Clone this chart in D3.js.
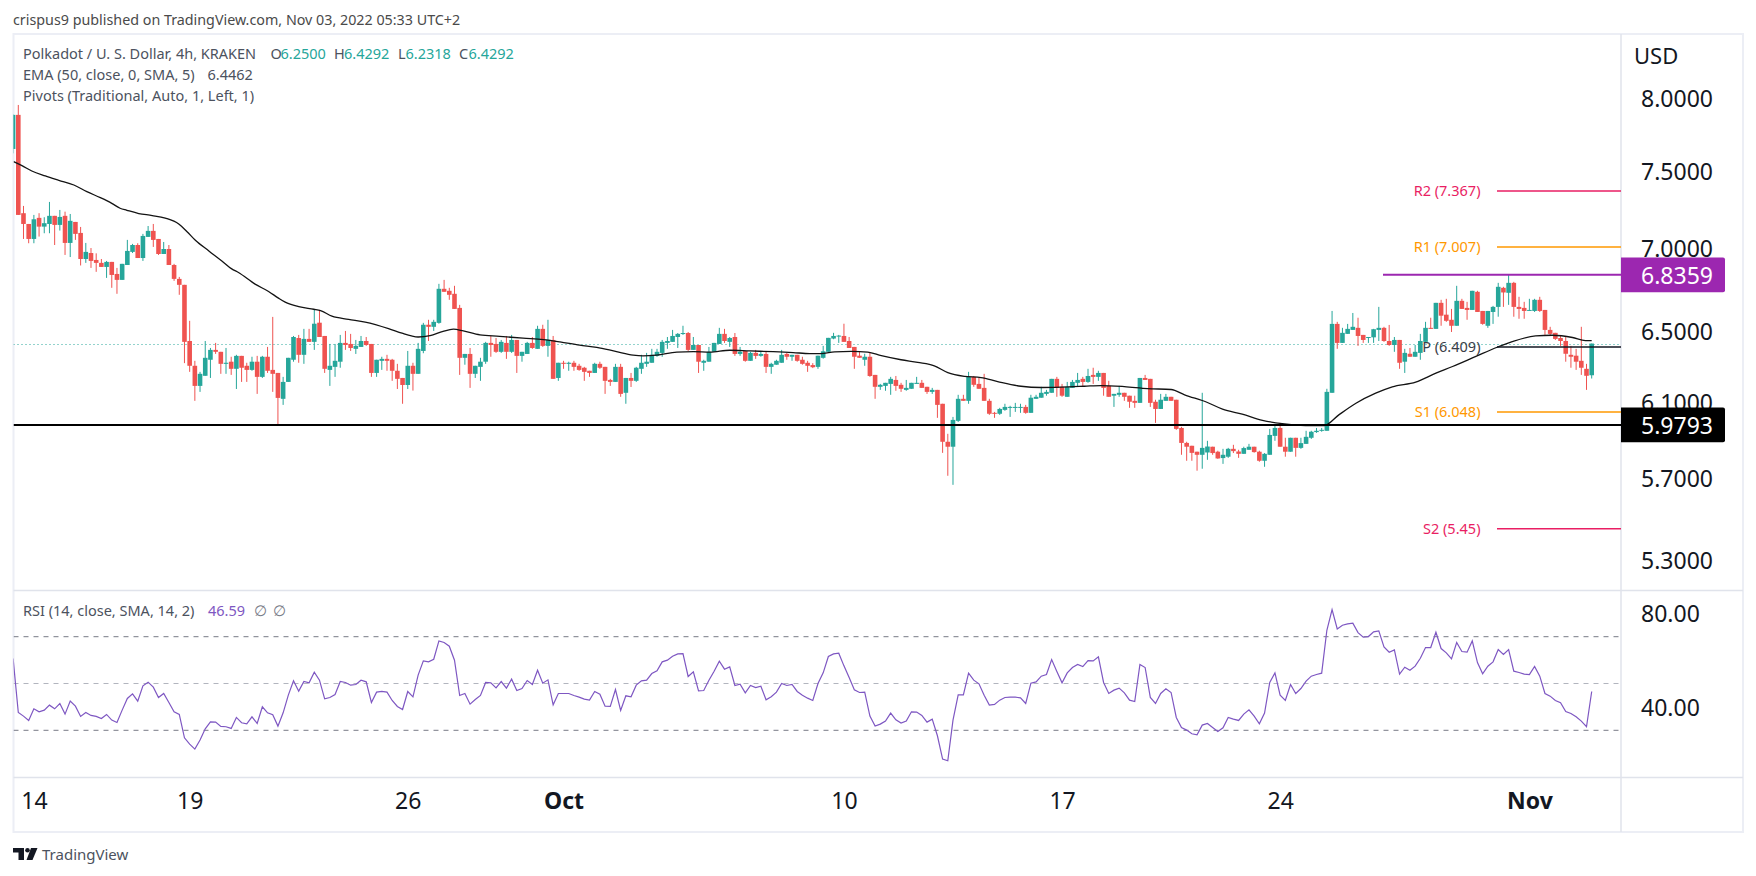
<!DOCTYPE html>
<html>
<head>
<meta charset="utf-8">
<script src="https://cdn.jsdelivr.net/npm/d3@7"></script>
<style>
  html, body { margin: 0; padding: 0; background: #fff; }
  svg { display: block; }
  text { font-family: "Noto Sans", sans-serif; }
</style>
</head>
<body>
<svg id="chart" width="1756" height="876"></svg>
<script>
// Candles, one row per 10 bars (4h bars, KRAKEN DOT/USD)
const opens = [
  7.648,7.884,7.222,7.153,7.058,7.192,7.136,7.153,7.205,7.147,
  7.205,7.033,7.166,7.096,6.933,6.970,6.927,6.909,6.884,6.915,
  6.841,6.805,6.896,6.977,7.020,6.939,7.071,7.109,7.058,6.964,
  6.995,6.896,6.811,6.775,6.444,6.303,6.191,6.247,6.337,6.393,
  6.382,6.314,6.326,6.286,6.359,6.303,6.280,6.326,6.241,6.354,
  6.280,6.263,6.120,6.213,6.337,6.461,6.365,6.456,6.439,6.550,
  6.473,6.280,6.297,6.326,6.433,6.427,6.399,6.410,6.444,6.427,
  6.263,6.331,6.342,6.337,6.275,6.235,6.196,6.303,6.258,6.387,
  6.538,6.526,6.549,6.751,6.739,6.721,6.637,6.348,6.370,6.258,
  6.297,6.326,6.433,6.427,6.382,6.433,6.382,6.450,6.359,6.370,
  6.433,6.399,6.514,6.416,6.450,6.235,6.320,6.314,6.320,6.303,
  6.292,6.275,6.263,6.314,6.297,6.224,6.213,6.297,6.153,6.235,
  6.219,6.286,6.314,6.320,6.359,6.376,6.433,6.439,6.467,6.485,
  6.490,6.393,6.421,6.320,6.326,6.382,6.427,6.485,6.439,6.467,
  6.370,6.387,6.331,6.376,6.359,6.370,6.297,6.309,6.320,6.370,
  6.354,6.365,6.337,6.320,6.307,6.297,6.348,6.382,6.458,6.471,
  6.473,6.444,6.410,6.360,6.337,6.354,6.252,6.186,6.191,6.202,
  6.224,6.197,6.169,6.175,6.202,6.208,6.186,6.158,6.169,6.093,
  5.890,5.864,6.001,6.120,6.109,6.241,6.202,6.180,6.109,6.044,
  6.039,6.060,6.071,6.073,6.073,6.076,6.044,6.120,6.126,6.147,
  6.153,6.230,6.186,6.131,6.180,6.208,6.230,6.213,6.252,6.241,
  6.263,6.191,6.137,6.142,6.153,6.137,6.109,6.098,6.235,6.230,
  6.104,6.065,6.109,6.131,6.115,5.963,5.884,5.869,5.838,5.822,
  5.834,5.864,5.838,5.805,5.812,5.853,5.839,5.827,5.848,5.864,
  5.838,5.791,5.822,5.921,5.963,5.864,5.838,5.911,5.858,5.879,
  5.911,5.941,5.948,5.948,6.153,6.543,6.433,6.485,6.508,6.520,
  6.479,6.464,6.465,6.508,6.520,6.444,6.421,6.450,6.326,6.371,
  6.354,6.376,6.439,6.520,6.514,6.667,6.597,6.567,6.532,6.679,
  6.637,6.625,6.733,6.619,6.532,6.613,6.643,6.757,6.727,6.787,
  6.643,6.637,6.621,6.619,6.685,6.625,6.508,6.491,6.461,6.444,
  6.365,6.360,6.331,6.286,6.25
];
const highs = [
  7.888,7.954,7.269,7.153,7.211,7.222,7.196,7.295,7.205,7.243,
  7.232,7.217,7.166,7.134,7.033,7.001,6.968,6.933,6.921,6.915,
  6.878,6.903,7.052,7.027,7.031,7.090,7.140,7.153,7.058,7.039,
  7.020,6.903,6.823,6.775,6.561,6.331,6.269,6.444,6.404,6.433,
  6.382,6.404,6.354,6.365,6.359,6.320,6.354,6.359,6.359,6.410,
  6.584,6.263,6.241,6.348,6.473,6.479,6.514,6.514,6.625,6.625,
  6.473,6.427,6.427,6.479,6.502,6.485,6.450,6.473,6.467,6.427,
  6.337,6.354,6.365,6.342,6.314,6.235,6.387,6.320,6.433,6.549,
  6.567,6.567,6.781,6.805,6.757,6.769,6.655,6.370,6.404,6.303,
  6.348,6.439,6.473,6.461,6.450,6.473,6.479,6.450,6.382,6.439,
  6.467,6.532,6.538,6.567,6.473,6.320,6.331,6.326,6.331,6.314,
  6.297,6.275,6.320,6.326,6.297,6.230,6.314,6.314,6.235,6.263,
  6.297,6.365,6.376,6.399,6.399,6.450,6.467,6.508,6.490,6.532,
  6.496,6.467,6.421,6.337,6.410,6.433,6.520,6.514,6.467,6.490,
  6.410,6.387,6.382,6.393,6.387,6.387,6.320,6.337,6.393,6.376,
  6.365,6.365,6.354,6.331,6.318,6.360,6.416,6.462,6.491,6.479,
  6.544,6.467,6.410,6.382,6.371,6.376,6.252,6.202,6.208,6.241,
  6.246,6.208,6.224,6.208,6.241,6.224,6.186,6.180,6.169,6.093,
  5.932,6.022,6.142,6.142,6.269,6.246,6.235,6.258,6.120,6.049,
  6.071,6.093,6.082,6.098,6.093,6.087,6.142,6.142,6.186,6.169,
  6.230,6.241,6.202,6.213,6.224,6.263,6.241,6.286,6.292,6.275,
  6.263,6.219,6.147,6.191,6.153,6.137,6.137,6.235,6.252,6.230,
  6.115,6.147,6.147,6.131,6.115,5.969,5.890,5.869,5.838,6.153,
  5.895,5.864,5.843,5.853,5.858,5.874,5.848,5.864,5.879,5.864,
  5.843,5.831,5.958,5.974,5.990,5.911,5.911,5.911,5.911,5.948,
  5.948,5.963,5.963,6.175,6.619,6.555,6.520,6.543,6.607,6.579,
  6.479,6.467,6.514,6.643,6.526,6.537,6.467,6.450,6.399,6.404,
  6.421,6.485,6.555,6.579,6.667,6.685,6.691,6.631,6.769,6.691,
  6.673,6.739,6.739,6.619,6.619,6.649,6.787,6.763,6.835,6.793,
  6.703,6.673,6.691,6.691,6.703,6.625,6.526,6.491,6.473,6.473,
  6.416,6.399,6.526,6.314,6.4292
];
const lows = [
  7.618,7.211,7.058,7.031,7.031,7.073,7.094,7.094,7.020,7.111,
  6.958,6.945,7.052,6.893,6.909,6.878,6.854,6.884,6.817,6.757,
  6.721,6.805,6.896,6.970,6.939,6.921,7.071,7.008,6.958,6.964,
  6.896,6.799,6.715,6.318,6.269,6.109,6.158,6.247,6.235,6.370,
  6.258,6.258,6.252,6.174,6.213,6.213,6.275,6.147,6.235,6.263,
  6.158,5.979,6.087,6.213,6.326,6.320,6.314,6.439,6.393,6.467,
  6.263,6.191,6.241,6.292,6.393,6.387,6.370,6.410,6.416,6.241,
  6.241,6.280,6.275,6.219,6.174,6.093,6.174,6.165,6.258,6.374,
  6.444,6.502,6.544,6.733,6.685,6.631,6.252,6.309,6.180,6.235,
  6.219,6.314,6.354,6.376,6.376,6.342,6.376,6.263,6.326,6.370,
  6.399,6.399,6.410,6.354,6.230,6.219,6.286,6.275,6.275,6.275,
  6.219,6.241,6.263,6.286,6.147,6.191,6.213,6.131,6.093,6.185,
  6.213,6.258,6.297,6.320,6.354,6.354,6.399,6.439,6.404,6.479,
  6.387,6.393,6.263,6.275,6.326,6.382,6.427,6.433,6.410,6.359,
  6.359,6.326,6.331,6.342,6.354,6.263,6.258,6.309,6.320,6.337,
  6.331,6.326,6.309,6.269,6.290,6.286,6.343,6.382,6.454,6.433,
  6.439,6.404,6.286,6.348,6.303,6.241,6.120,6.169,6.164,6.142,
  6.164,6.158,6.164,6.175,6.202,6.180,6.147,6.147,6.017,5.832,
  5.714,5.668,5.995,6.109,6.093,6.186,6.175,6.109,6.033,6.017,
  6.033,6.055,6.022,6.049,6.044,6.039,6.044,6.120,6.126,6.137,
  6.153,6.131,6.131,6.131,6.180,6.186,6.186,6.208,6.202,6.219,
  6.137,6.131,6.076,6.131,6.109,6.071,6.071,6.098,6.224,6.076,
  5.990,6.065,6.109,6.109,5.953,5.822,5.791,5.791,5.740,5.750,
  5.796,5.822,5.801,5.775,5.806,5.831,5.806,5.827,5.848,5.833,
  5.786,5.760,5.822,5.895,5.864,5.812,5.838,5.812,5.853,5.879,
  5.905,5.937,5.943,5.948,6.153,6.399,6.433,6.485,6.508,6.416,
  6.433,6.433,6.433,6.444,6.439,6.416,6.382,6.286,6.263,6.354,
  6.354,6.337,6.439,6.514,6.514,6.532,6.555,6.496,6.532,6.631,
  6.567,6.625,6.613,6.538,6.520,6.543,6.585,6.643,6.655,6.585,
  6.573,6.573,6.619,6.613,6.613,6.479,6.473,6.450,6.416,6.326,
  6.292,6.280,6.252,6.169,6.2318
];
const closes = [
  7.884,7.211,7.153,7.058,7.183,7.136,7.158,7.205,7.147,7.198,
  7.033,7.173,7.090,6.933,6.977,6.921,6.909,6.884,6.915,6.835,
  6.805,6.903,6.983,7.020,6.939,7.077,7.109,7.052,6.964,6.995,
  6.896,6.811,6.775,6.439,6.303,6.191,6.258,6.348,6.393,6.382,
  6.314,6.320,6.286,6.359,6.292,6.280,6.326,6.241,6.354,6.275,
  6.258,6.125,6.213,6.348,6.467,6.365,6.456,6.439,6.544,6.467,
  6.286,6.303,6.331,6.433,6.421,6.404,6.416,6.444,6.421,6.263,
  6.337,6.342,6.331,6.275,6.230,6.196,6.303,6.258,6.399,6.538,
  6.526,6.555,6.751,6.733,6.715,6.631,6.348,6.370,6.258,6.303,
  6.326,6.433,6.421,6.382,6.439,6.382,6.450,6.359,6.382,6.433,
  6.404,6.514,6.416,6.450,6.230,6.320,6.314,6.320,6.297,6.280,
  6.269,6.263,6.314,6.292,6.219,6.213,6.297,6.147,6.235,6.219,
  6.292,6.320,6.326,6.365,6.382,6.439,6.444,6.473,6.485,6.490,
  6.393,6.421,6.326,6.331,6.382,6.433,6.485,6.444,6.461,6.370,
  6.382,6.331,6.376,6.359,6.370,6.297,6.314,6.331,6.365,6.354,
  6.365,6.331,6.314,6.303,6.295,6.360,6.385,6.462,6.473,6.475,
  6.439,6.404,6.354,6.348,6.354,6.246,6.186,6.197,6.208,6.230,
  6.191,6.175,6.180,6.208,6.208,6.180,6.158,6.169,6.087,5.890,
  5.864,6.006,6.120,6.109,6.241,6.197,6.175,6.109,6.039,6.039,
  6.065,6.076,6.076,6.076,6.076,6.044,6.126,6.131,6.153,6.158,
  6.230,6.180,6.137,6.186,6.213,6.224,6.213,6.246,6.241,6.263,
  6.180,6.131,6.147,6.153,6.131,6.104,6.098,6.235,6.224,6.098,
  6.065,6.115,6.131,6.109,5.958,5.884,5.864,5.832,5.822,5.858,
  5.865,5.831,5.803,5.822,5.853,5.841,5.827,5.857,5.864,5.836,
  5.791,5.827,5.926,5.963,5.864,5.838,5.911,5.858,5.883,5.916,
  5.943,5.948,5.953,6.158,6.543,6.433,6.491,6.514,6.526,6.473,
  6.450,6.467,6.512,6.520,6.444,6.421,6.450,6.320,6.376,6.354,
  6.382,6.444,6.520,6.514,6.667,6.591,6.561,6.532,6.679,6.631,
  6.625,6.739,6.613,6.543,6.619,6.643,6.763,6.729,6.787,6.643,
  6.631,6.619,6.625,6.685,6.619,6.508,6.485,6.456,6.444,6.371,
  6.354,6.326,6.292,6.247,6.4292
];

// EMA 50 at the bars where the line bends
const emaBars = [
  0.1,1.7,3.6,6.2,8.8,11.7,14.2,16.8,19,20.6,21.9,24.2,26.8,29.3,31.9,33.5,35.1,37.7,40.2,42.1,
  43.4,46.6,49.2,51.1,52.4,55,57.9,59.2,61.4,64.6,67.8,72.3,74.9,76.7,78,80.3,82.8,84.8,86.7,89.9,
  93.7,98.2,102.1,105.3,109.1,112.4,116.2,119.4,121.3,123.9,127.8,131,134.2,138,141.9,146.4,150.2,153.4,155.6,158.2,
  161.4,164.6,167.2,171,174.2,177.4,180,183.2,186.4,189.6,194.1,198,201.8,206.3,209.5,214,218.5,223,225.6,230,
  232.9,236.7,240.6,244.4,248.9,252.5,255.3,258.6,262.4,265.6,270.1,274,277.2,281.7,285.8,288.7,293.2,296.4,300.3,302.8,304
];
const emaValues = [
  7.562,7.535,7.499,7.466,7.437,7.406,7.362,7.323,7.286,7.254,7.241,7.220,7.207,7.190,7.153,7.104,7.050,6.983,6.921,6.872,
  6.850,6.779,6.735,6.695,6.671,6.645,6.629,6.621,6.588,6.570,6.554,6.516,6.489,6.473,6.467,6.475,6.500,6.512,6.502,6.479,
  6.471,6.460,6.452,6.439,6.420,6.408,6.383,6.363,6.359,6.363,6.380,6.383,6.380,6.391,6.387,6.383,6.378,6.372,6.372,6.382,
  6.385,6.380,6.360,6.337,6.322,6.303,6.265,6.244,6.237,6.215,6.189,6.182,6.184,6.189,6.193,6.187,6.176,6.171,6.142,6.100,
  6.064,6.037,6.004,5.986,5.976,5.976,6.033,6.096,6.151,6.186,6.212,6.262,6.299,6.356,6.408,6.440,6.473,6.477,6.464,6.446,6.4462
];

// RSI 14, one value per bar
const rsiValues = [
  60.67,37.62,36.06,34.21,39.19,37.91,38.62,40.75,39.19,41.47,
  36.91,42.46,40.33,35.92,37.62,36.34,35.92,35.06,36.77,34.35,
  33.36,38.62,43.6,45.59,42.46,49,50.57,48.43,44,45.73,
  41.89,37.91,36.77,26.81,24.11,21.98,25.82,30.65,33.64,33.5,
  31.65,31.51,30.8,35.49,33.21,32.79,35.77,32.93,40.04,37.48,
  36.63,31.79,37.48,45.02,51.14,46.73,50.85,50.28,54.84,51.42,
  43.46,44.03,45.31,50.85,50.43,49.29,49.57,51.42,50.71,41.89,
  46.3,46.59,46.3,42.74,40.19,38.9,46.59,44.31,53.56,59.67,
  59.25,60.38,68.21,67.5,65.93,59.96,44.88,45.73,41.18,43.17,
  44.88,50.43,50.28,48.15,50.85,48.01,51.85,47.01,47.87,51.28,
  49.57,55.69,50.14,51.56,40.9,45.73,45.73,45.73,44.88,44.17,
  43.31,42.89,46.59,45.45,40.33,40.19,47.44,38.48,44.74,44.31,
  49.29,51.14,51.42,54.27,55.41,59.25,59.96,61.66,62.66,62.8,
  52.99,54.98,46.87,47.01,51.42,55.26,59.53,56.12,57.11,49.15,
  49.71,46.02,49.15,48.29,48.86,43.03,44.31,46.3,50,49.15,
  49.57,46.59,45.02,43.74,42.74,50,54.55,61.52,62.66,62.94,
  57.54,52.56,47.3,46.16,46.3,36.06,31.79,32.65,33.93,37.34,
  34.49,33.07,33.93,37.91,37.77,36.34,33.5,34.78,27.67,17.71,
  17,34.35,45.16,45.16,54.41,51.42,49.86,45.02,40.75,41.04,
  42.89,44.03,44.17,44.17,43.88,41.47,50.14,50.71,53.13,53.84,
  60.24,55.12,50.28,54.55,56.83,58.11,57.25,59.81,59.67,61.38,
  50.43,45.73,47.16,48.01,46.02,42.89,42.32,58.11,56.83,44.03,
  41.47,45.73,47.72,46.16,35.49,31.22,30.08,28.52,28.09,32.22,
  32.93,31.22,29.52,31.08,35.49,34.78,34.21,36.91,38.76,36.06,
  32.79,37.34,50.43,54.55,45.02,42.74,49.57,45.73,47.87,50.99,
  53.13,53.84,54.41,72.76,81.58,73.33,74.89,75.46,75.75,71.76,
  69.77,70.06,72.05,72.47,65.65,63.37,64.37,53.98,56.97,55.69,
  57.4,60.81,65.36,65.36,71.91,64.94,63.09,60.53,67.5,63.66,
  63.37,68.21,58.96,54.13,57.4,59.25,64.51,62.38,64.51,55.26,
  54.69,53.98,53.84,57.25,53.13,45.73,44.59,42.74,41.75,38.05,
  37.2,35.77,33.93,31.51,46.59
];

const priceTicks = [8, 7.5, 7, 6.5, 6.1, 5.7, 5.3];
const rsiTicks = [80, 40];
const rsiBands = [70, 50, 30];
const timeBars = [4, 34, 76, 106, 160, 202, 244, 292];
const timeLabels = ['14', '19', '26', 'Oct', '10', '17', '24', 'Nov'];
const monthLabels = ['Oct', 'Nov'];

const pivotNames = ['R2', 'R1', 'P', 'S1', 'S2'];
const pivotValues = [7.367, 7.007, 6.409, 6.048, 5.45];
const pivotValueLabels = ['7.367', '7.007', '6.409', '6.048', '5.45'];
const pivotColors = ['#e91e63', '#ff9800', '#131722', '#ff9800', '#e91e63'];

const lastClose = 6.4292;
const resistanceLevel = 6.8359;
const supportLevel = 5.9793;

// Layout
const frame = { left: 13.5, top: 34, right: 1743, bottom: 832 };
const axisX = 1621;
const priceBottom = 590.5;
const rsiBottom = 777.5;

const UP = '#26a69a', DOWN = '#ef5350', INK = '#131722', LABEL = '#4c525e', RULE = '#e0e3eb';

const svg = d3.select('#chart');

const x = d3.scaleLinear().domain([1, 304]).range([18.3, 1591.7]);
const priceY = d3.scaleLog().domain([8, 5.3]).range([98.5, 560.1]);
const rsiY = d3.scaleLinear().domain([70, 30]).range([636.7, 730.3]);

svg.append('clipPath').attr('id', 'plotClip')
  .append('rect').attr('x', frame.left).attr('y', frame.top)
  .attr('width', axisX - frame.left).attr('height', rsiBottom - frame.top);

// Frame and pane rules
svg.append('rect').attr('x', frame.left).attr('y', frame.top)
  .attr('width', frame.right - frame.left).attr('height', frame.bottom - frame.top)
  .attr('fill', '#fff').attr('stroke', '#eceef5').attr('stroke-width', 2);
[priceBottom, rsiBottom].forEach(y => {
  svg.append('line').attr('x1', frame.left).attr('x2', frame.right).attr('y1', y).attr('y2', y)
    .attr('stroke', RULE).attr('stroke-width', 1.5);
});
svg.append('line').attr('x1', axisX).attr('x2', axisX).attr('y1', frame.top).attr('y2', frame.bottom)
  .attr('stroke', RULE).attr('stroke-width', 1.5);

const plot = svg.append('g').attr('clip-path', 'url(#plotClip)');

// Last price dotted line
const lastY = Math.round(priceY(lastClose)) + 0.5;
plot.append('line').attr('x1', frame.left).attr('x2', axisX)
  .attr('y1', lastY).attr('y2', lastY)
  .attr('stroke', UP).attr('stroke-width', 1).attr('stroke-dasharray', '1 3');

// Candles
const candles = opens.map((o, i) => ({ i, o, h: highs[i], l: lows[i], c: closes[i] }));
const candle = plot.append('g').selectAll('g').data(candles).join('g')
  .attr('fill', d => d.c >= d.o ? UP : DOWN)
  .attr('stroke', d => d.c >= d.o ? UP : DOWN);
candle.append('line')
  .attr('x1', d => x(d.i)).attr('x2', d => x(d.i))
  .attr('y1', d => priceY(d.h)).attr('y2', d => priceY(d.l))
  .attr('stroke-width', 1);
candle.append('rect')
  .attr('x', d => x(d.i) - 2.3).attr('width', 4.6)
  .attr('y', d => priceY(Math.max(d.o, d.c)))
  .attr('height', d => Math.max(1, Math.abs(priceY(d.o) - priceY(d.c))))
  .attr('stroke', 'none');

// EMA
const emaLine = d3.line().x(d => x(d[0])).y(d => priceY(d[1])).curve(d3.curveMonotoneX);
plot.append('path').datum(d3.zip(emaBars, emaValues))
  .attr('d', emaLine).attr('fill', 'none').attr('stroke', '#131313').attr('stroke-width', 1.3);

// Pivots
const pivotStart = 1497, pivotTextEnd = 1480.5;
pivotNames.forEach((name, k) => {
  const y = priceY(pivotValues[k]);
  plot.append('line').attr('x1', pivotStart).attr('x2', axisX).attr('y1', y).attr('y2', y)
    .attr('stroke', pivotColors[k]).attr('stroke-width', 1.5);
  svg.append('text').attr('x', pivotTextEnd).attr('y', y).attr('dy', '0.35em')
    .attr('text-anchor', 'end').attr('font-size', 14.5)
    .attr('fill', name === 'P' ? '#3a3e48' : pivotColors[k])
    .text(`${name} (${pivotValueLabels[k]})`);
});

// Horizontal levels the author drew
plot.append('line').attr('x1', 1383).attr('x2', axisX)
  .attr('y1', priceY(resistanceLevel)).attr('y2', priceY(resistanceLevel))
  .attr('stroke', '#9c27b0').attr('stroke-width', 2);
plot.append('line').attr('x1', frame.left).attr('x2', axisX)
  .attr('y1', priceY(supportLevel)).attr('y2', priceY(supportLevel))
  .attr('stroke', '#000').attr('stroke-width', 2);

// RSI pane
rsiBands.forEach(v => {
  plot.append('line').attr('x1', frame.left).attr('x2', axisX).attr('y1', rsiY(v)).attr('y2', rsiY(v))
    .attr('stroke', v === 50 ? '#b2b5be' : '#787b86').attr('stroke-width', 1).attr('stroke-dasharray', '5 5');
});
plot.append('path').datum(rsiValues)
  .attr('d', d3.line().x((d, i) => x(i)).y(d => rsiY(d)))
  .attr('fill', 'none').attr('stroke', '#7e57c2').attr('stroke-width', 1.2);

// Axes
function styleAxis(g) {
  g.select('.domain').remove();
  g.selectAll('text').attr('fill', INK).attr('font-size', 23).style('font-family', '"Noto Sans", sans-serif');
}
svg.append('g').attr('transform', `translate(${axisX},1)`)
  .call(d3.axisRight(priceY).tickValues(priceTicks).tickSize(0).tickPadding(20).tickFormat(d3.format('.4f')))
  .call(styleAxis);
svg.append('g').attr('transform', `translate(${axisX},1)`)
  .call(d3.axisRight(rsiY).tickValues(rsiTicks).tickSize(0).tickPadding(20).tickFormat(d3.format('.2f')))
  .call(styleAxis);
svg.append('g').attr('transform', `translate(0,${rsiBottom})`)
  .call(d3.axisBottom(x).tickValues(timeBars).tickSize(0).tickPadding(15).tickFormat((d, i) => timeLabels[i]))
  .call(styleAxis)
  .selectAll('text').attr('font-weight', (d, i) => monthLabels.includes(timeLabels[i]) ? 700 : 400);

svg.append('text').attr('x', 1634).attr('y', 56).attr('dy', '0.35em')
  .attr('font-size', 22).attr('fill', INK).text('USD');

// Level price tags
[[resistanceLevel, '#9c27b0'], [supportLevel, '#000']].forEach(([v, color]) => {
  const y = priceY(v);
  svg.append('path')
    .attr('d', `M${axisX},${y - 17.4}H1723a2,2 0 0 1 2,2V${y + 15.4}a2,2 0 0 1 -2,2H${axisX}Z`)
    .attr('fill', color);
  svg.append('text').attr('x', axisX + 20).attr('y', y + 1).attr('dy', '0.35em')
    .attr('font-size', 23).attr('fill', '#fff').text(d3.format('.4f')(v));
});

// Legends, each part placed at its own x
function legend(y, parts) {
  parts.forEach(([s, color, px]) => {
    svg.append('text').attr('x', px).attr('y', y).attr('dy', '0.35em')
      .attr('font-size', 14.5).attr('fill', color).text(s);
  });
}
legend(54, [
  ['Polkadot / U. S. Dollar, 4h, KRAKEN', LABEL, 23],
  ['O', LABEL, 270.5], ['6.2500', UP, 280.5],
  ['H', LABEL, 334], ['6.4292', UP, 344],
  ['L', LABEL, 398], ['6.2318', UP, 405.5],
  ['C', LABEL, 459], ['6.4292', UP, 468.5]
]);
legend(75, [['EMA (50, close, 0, SMA, 5)', LABEL, 23], ['6.4462', LABEL, 207.5]]);
legend(96, [['Pivots (Traditional, Auto, 1, Left, 1)', LABEL, 23]]);
legend(611, [
  ['RSI (14, close, SMA, 14, 2)', LABEL, 23],
  ['46.59', '#7e57c2', 208],
  ['∅', '#787b86', 254], ['∅', '#787b86', 273]
]);

// Header and footer
svg.append('text').attr('x', 13).attr('y', 20).attr('dy', '0.35em')
  .attr('font-size', 14.3).attr('fill', '#4a4a4a')
  .text('crispus9 published on TradingView.com, Nov 03, 2022 05:33 UTC+2');

const logo = svg.append('g').attr('fill', '#131722');
logo.append('path').attr('d', 'M13,848H24V860H18.5V852.5H13Z');
logo.append('circle').attr('cx', 27.5).attr('cy', 850.2).attr('r', 2.3);
logo.append('path').attr('d', 'M31,848H37.5L32.5,860H26.5Z');
svg.append('text').attr('x', 42).attr('y', 855).attr('dy', '0.35em')
  .attr('font-size', 15).attr('fill', '#4c525e').text('TradingView');
</script>
</body>
</html>
